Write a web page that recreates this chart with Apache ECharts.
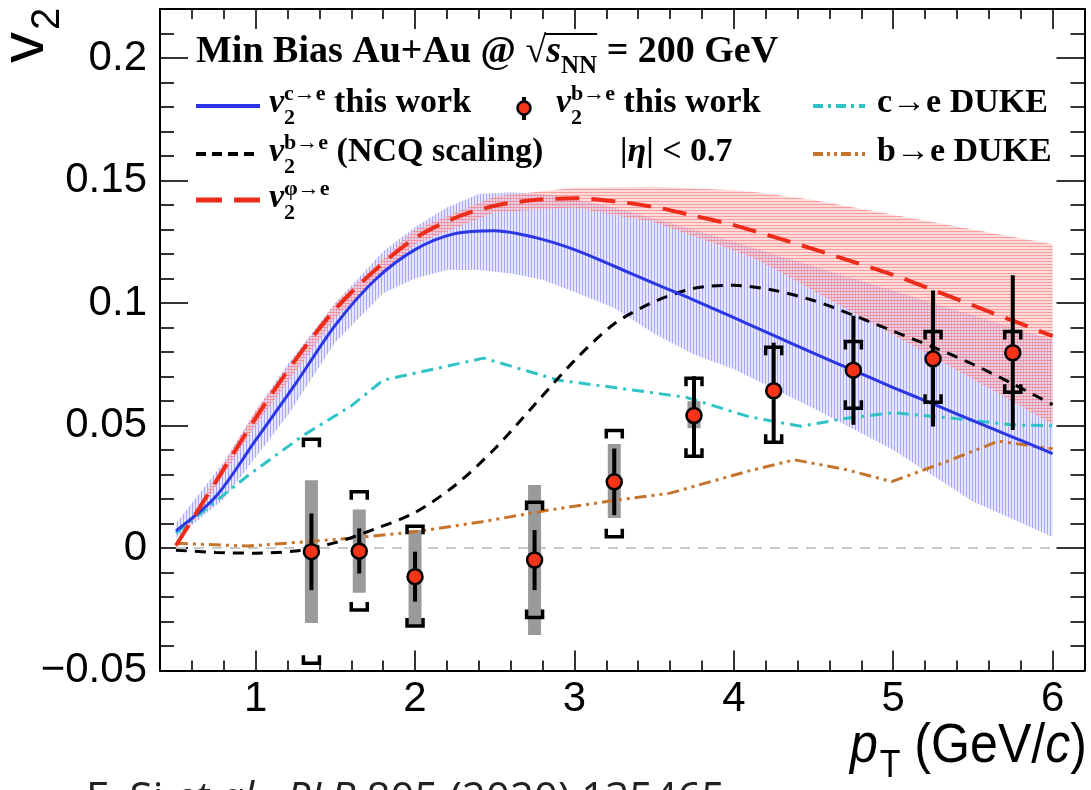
<!DOCTYPE html>
<html>
<head>
<meta charset="utf-8">
<script src="https://cdn.jsdelivr.net/npm/echarts@6/dist/echarts.min.js"></script>
<style>
  html, body { margin: 0; padding: 0; background: #fff; }
  #chart { width: 1091px; height: 790px; }
</style>
</head>
<body>
<div id="chart"></div>
<script>
// ---------------- axis ticks ----------------
const xTicks = [1, 2, 3, 4, 5, 6];
const xTickLabels = ['1', '2', '3', '4', '5', '6'];
const yTicks = [-0.05, 0, 0.05, 0.1, 0.15, 0.2];
const yTickLabels = ['\u22120.05', '0', '0.05', '0.1', '0.15', '0.2'];

// ---------------- v2 of c->e, this work (curve + band) ----------------
const cePt = [0.5, 0.75, 1.0, 1.25, 1.5, 1.75, 2.0, 2.25, 2.5, 2.75, 3.0, 3.25, 3.5, 3.75, 4.0, 4.25, 4.5, 4.75, 5.0, 5.25, 5.5, 5.75, 6.0];
const ceV2 = [0.007, 0.021, 0.044, 0.067, 0.091, 0.1095, 0.1218, 0.1283, 0.1295, 0.1268, 0.1218, 0.115, 0.108, 0.1012, 0.094, 0.0868, 0.0795, 0.0725, 0.0655, 0.0588, 0.052, 0.0453, 0.0385];
const ceBandPt = [0.5, 0.8, 1.0, 1.2, 1.5, 1.8, 2.0, 2.2, 2.4, 2.6, 2.8, 3.0, 3.25, 3.5, 3.75, 4.0, 4.5, 5.0, 5.5, 6.0];
const ceBandLo = [0.004, 0.020, 0.037, 0.054, 0.084, 0.104, 0.110, 0.1135, 0.1135, 0.112, 0.1095, 0.1045, 0.098, 0.0875, 0.079, 0.073, 0.057, 0.040, 0.019, 0.0045];
const ceBandHi = [0.010, 0.035, 0.056, 0.075, 0.100, 0.121, 0.131, 0.139, 0.1445, 0.1452, 0.1445, 0.1425, 0.139, 0.1345, 0.130, 0.125, 0.115, 0.105, 0.095, 0.085];

// ---------------- v2 of phi->e (curve + band) ----------------
const phiPt = [0.5, 0.75, 1.0, 1.25, 1.5, 1.75, 2.0, 2.25, 2.5, 2.75, 3.0, 3.25, 3.5, 3.75, 4.0, 4.25, 4.5, 4.75, 5.0, 5.25, 5.5, 5.75, 6.0];
const phiV2 = [0.001, 0.027, 0.053, 0.0768, 0.0975, 0.1135, 0.1265, 0.1347, 0.1397, 0.142, 0.1428, 0.1415, 0.1392, 0.1356, 0.1318, 0.127, 0.122, 0.1168, 0.1115, 0.1053, 0.099, 0.0928, 0.0865];
const phiBandPt = [0.5, 1.0, 1.5, 2.0, 2.5, 3.0, 3.5, 4.0, 4.17, 4.5, 5.0, 5.5, 6.0];
const phiBandLo = [0.000, 0.050, 0.094, 0.124, 0.137, 0.139, 0.133, 0.1215, 0.117, 0.105, 0.087, 0.069, 0.0505];
const phiBandHi = [0.002, 0.056, 0.100, 0.130, 0.1435, 0.147, 0.1475, 0.146, 0.145, 0.142, 0.136, 0.130, 0.124];

// ---------------- v2 of b->e from NCQ scaling ----------------
const ncqPt = [0.5, 0.75, 1.0, 1.25, 1.5, 1.75, 2.0, 2.25, 2.5, 2.75, 3.0, 3.25, 3.5, 3.75, 4.0, 4.25, 4.5, 4.75, 5.0, 5.25, 5.5, 5.75, 6.0];
const ncqV2 = [-0.0009, -0.0018, -0.0021, -0.0012, 0.0022, 0.0078, 0.0145, 0.0255, 0.0405, 0.0585, 0.0765, 0.0915, 0.1005, 0.106, 0.1072, 0.1052, 0.101, 0.095, 0.0885, 0.082, 0.075, 0.067, 0.0585];

// ---------------- DUKE model ----------------
const dukeCPt = [0.5, 0.96, 1.3, 1.6, 1.8, 2.43, 2.9, 3.25, 3.7, 4.1, 4.42, 4.72, 5.0, 5.35, 5.76, 6.0];
const dukeCV2 = [0.0061, 0.030, 0.046, 0.058, 0.0685, 0.0775, 0.0685, 0.0655, 0.0615, 0.0535, 0.0497, 0.0531, 0.0552, 0.0531, 0.0502, 0.0499];
const dukeBPt = [0.5, 0.95, 1.2, 1.6, 2.0, 2.42, 2.84, 3.26, 3.6, 4.08, 4.38, 4.71, 4.99, 5.34, 5.66, 6.0];
const dukeBV2 = [0.0019, 0.0008, 0.002, 0.004, 0.0066, 0.0107, 0.0155, 0.0195, 0.0224, 0.0312, 0.036, 0.0319, 0.0271, 0.0354, 0.0436, 0.0405];

// ---------------- v2 of b->e, this work (points) ----------------
const ptX    = [1.35, 1.65, 2.0, 2.75, 3.25, 3.75, 4.25, 4.75, 5.25, 5.75];
const ptV2   = [-0.0015, -0.0013, -0.0117, -0.0049, 0.027, 0.0541, 0.0642, 0.0726, 0.0772, 0.0797];
const statLo = [-0.0172, -0.0104, -0.0219, -0.0172, 0.0134, 0.0372, 0.0428, 0.0503, 0.0496, 0.0482];
const statHi = [0.0141, 0.008, -0.0015, 0.0073, 0.0406, 0.0701, 0.0838, 0.0948, 0.1051, 0.1113];
const sysLo  = [-0.047, -0.0253, -0.0318, -0.0284, 0.0046, 0.0375, 0.0432, 0.057, 0.0595, 0.0636];
const sysHi  = [0.0444, 0.023, 0.0089, 0.0187, 0.048, 0.0693, 0.0819, 0.0843, 0.0884, 0.0884];
const boxLo  = [-0.0306, -0.0183, -0.0314, -0.0355, 0.0122, 0.0489, null, null, null, null];
const boxHi  = [0.0277, 0.0157, 0.0073, 0.0257, 0.0424, 0.0599, null, null, null, null];

// zero reference line
const zeroX = [0.5, 6.0];
const zeroY = [0, 0];

// ---------------- styling ----------------
const X_MIN = 0.4, X_MAX = 6.2, Y_MIN = -0.05, Y_MAX = 0.22;
const C_BLUE = '#2b36e6', C_RED = '#ee2c1a', C_CYAN = '#2fc3c6', C_BROWN = '#c6732c', C_MARK = '#f5341a';
const SANS = "'Liberation Sans', Arial, sans-serif";
const SERIF = "'Liberation Serif', 'Times New Roman', serif";
const CITE = "'Open Sans', 'Noto Sans', sans-serif";

const xMinor = [], yMinor = [];
for (let k = 2; k <= 31; k++) { const v = +(k * 0.2).toFixed(1); if (Math.abs(v - Math.round(v)) > 1e-6) xMinor.push(v); }
for (let k = -4; k <= 21; k++) { if (k % 5 !== 0) yMinor.push(+(k * 0.01).toFixed(2)); }

function hatch(bg, line, vertical) {
  const c = document.createElement('canvas');
  c.width = 3; c.height = 3;
  const g = c.getContext('2d');
  g.fillStyle = bg; g.fillRect(0, 0, 3, 3);
  g.fillStyle = line;
  if (vertical) g.fillRect(0, 0, 1, 3); else g.fillRect(0, 0, 3, 1);
  return { image: c, repeat: 'repeat' };
}
const blueFill = hatch('rgba(196,196,255,0.42)', 'rgba(128,128,246,0.62)', true);
const redFill = hatch('rgba(255,182,182,0.48)', 'rgba(244,116,116,0.62)', false);

function bandRenderer(xs, lo, hi, fill) {
  return function (params, api) {
    const pts = [];
    for (let i = 0; i < xs.length; i++) pts.push(api.coord([xs[i], hi[i]]));
    for (let i = xs.length - 1; i >= 0; i--) pts.push(api.coord([xs[i], lo[i]]));
    return { type: 'polygon', shape: { points: pts }, style: { fill: fill, stroke: null } };
  };
}

function curve(name, xs, ys, color, width, dash, smooth, z) {
  return {
    name: name, type: 'line', data: xs.map((x, i) => [x, ys[i]]),
    showSymbol: false, smooth: smooth, z: z, silent: true,
    lineStyle: { color: color, width: width, type: dash || 'solid', cap: 'butt' }
  };
}

// ---------------- text helpers (graphic) ----------------
const mctx = document.createElement('canvas').getContext('2d');
function fontOf(p) { return (p.it ? 'italic ' : '') + (p.bold ? 'bold ' : '') + p.size + 'px ' + p.fam; }
function widthOf(p) { mctx.font = fontOf(p); return mctx.measureText(p.t).width; }
function textRun(x, base, parts, color) {
  const els = [];
  let cx = x;
  parts.forEach(p => {
    const w = widthOf(p);
    els.push({
      type: 'text', x: cx + (p.dx || 0), y: base + (p.dy || 0) - 0.345 * p.size, silent: true, z: 100,
      style: { text: p.t, font: fontOf(p), fill: color || '#000', textAlign: 'left', textVerticalAlign: 'middle' }
    });
    if (!p.stay) cx += w + (p.dx || 0);
  });
  return { els: els, end: cx };
}
function S(t, size, o) { return Object.assign({ t: t, size: size, fam: SERIF, bold: true }, o || {}); }
function v2Label(sup) {
  return [S('v', 34, { it: true }), S('2', 22, { dy: 11, stay: true }), S(sup, 22, { dy: -13 })];
}
function legLine(x1, x2, y, color, width, dash) {
  return { type: 'line', silent: true, z: 100, shape: { x1: x1, y1: y, x2: x2, y2: y },
    style: { stroke: color, lineWidth: width, lineDash: dash || null } };
}

const gfx = [];
// header
const headParts = [
  S('Min Bias Au+Au @ ', 38),
  S('\u221A', 38),
  S('s', 38, { it: true }),
  S('NN', 25, { dy: 10 }),
  S(' = 200 GeV', 38)
];
gfx.push(...textRun(196, 65, headParts).els);
{
  const a = 196 + widthOf(headParts[0]);
  const b = a + widthOf(headParts[1]);
  const d = b + widthOf(headParts[2]) + widthOf(headParts[3]);
  gfx.push({ type: 'line', silent: true, z: 100, shape: { x1: b - 2, y1: 34, x2: d, y2: 34 }, style: { stroke: '#000', lineWidth: 2 } });
}
// row 1
gfx.push(legLine(196, 260, 106, C_BLUE, 4));
gfx.push(...textRun(269, 115, v2Label('c\u2192e').concat([S(' this work', 34)])).els);
gfx.push({ type: 'line', silent: true, z: 100, shape: { x1: 524, y1: 97, x2: 524, y2: 120 }, style: { stroke: '#000', lineWidth: 4 } });
gfx.push({ type: 'circle', silent: true, z: 101, shape: { cx: 524, cy: 108, r: 6.5 }, style: { fill: C_MARK, stroke: '#000', lineWidth: 2.5 } });
gfx.push(...textRun(556, 115, v2Label('b\u2192e').concat([S(' this work', 34)])).els);
gfx.push(legLine(813, 865, 106, C_CYAN, 4, [10, 5, 3, 5]));
gfx.push(...textRun(877, 115, [S('c\u2192e DUKE', 34)]).els);
// row 2
gfx.push(legLine(196, 260, 154, '#000', 4, [10, 6]));
gfx.push(...textRun(269, 164, v2Label('b\u2192e').concat([S(' (NCQ scaling)', 34)])).els);
gfx.push(...textRun(620, 164, [S('|', 34), S('\u03B7', 34, { it: true }), S('| < 0.7', 34)]).els);
gfx.push(legLine(813, 865, 154, C_BROWN, 4, [10, 4, 3, 4, 3, 4]));
gfx.push(...textRun(877, 164, [S('b\u2192e DUKE', 34)]).els);
// row 3
gfx.push(legLine(196, 260, 200, C_RED, 5, [26, 12]));
gfx.push(...textRun(269, 210, v2Label('\u03C6\u2192e')).els);

// axis titles
{
  const yt = textRun(0, 0, [
    { t: 'v', size: 62, fam: SANS },
    { t: '2', size: 40, fam: SANS, dy: 15, dx: 2 }
  ]);
  gfx.push({ type: 'group', x: 47, y: 63, rotation: Math.PI / 2, children: yt.els });

  const xtParts = [
    { t: 'p', size: 56, fam: SANS, it: true },
    { t: 'T', size: 38, fam: SANS, dy: 14, dx: 2 },
    { t: ' (GeV/', size: 56, fam: SANS },
    { t: 'c', size: 56, fam: SANS, it: true },
    { t: ')', size: 56, fam: SANS }
  ];
  const xt = textRun(0, 0, xtParts);
  const span = 1087 - 850;
  gfx.push({ type: 'group', x: 850, y: 766, scaleX: span / xt.end, children: xt.els });
}
// citation line at the bottom edge
gfx.push(...textRun(86, 815, [
  { t: 'F. Si ', size: 42, fam: CITE },
  { t: 'et al.', size: 42, fam: CITE, it: true },
  { t: ', ', size: 42, fam: CITE },
  { t: 'PLB', size: 42, fam: CITE, it: true },
  { t: ' 805 (2020) 135465', size: 42, fam: CITE }
], '#222').els);

// ---------------- axes ----------------
function xAxisDef(pos, ticks, len, showLine, showLabel) {
  return {
    type: 'value', position: pos, min: X_MIN, max: X_MAX,
    axisLine: { show: showLine, onZero: false, lineStyle: { color: '#000', width: 2 } },
    axisTick: { show: true, inside: true, length: len, customValues: ticks, lineStyle: { color: '#000', width: 1.6 } },
    axisLabel: showLabel ? {
      show: true, customValues: xTicks, margin: 8, color: '#000', fontSize: 42, fontFamily: SANS,
      formatter: v => { const i = xTicks.findIndex(t => Math.abs(t - v) < 1e-6); return i >= 0 ? xTickLabels[i] : ''; }
    } : { show: false },
    splitLine: { show: false }, minorTick: { show: false }
  };
}
function yAxisDef(pos, ticks, len, showLine, showLabel) {
  return {
    type: 'value', position: pos, min: Y_MIN, max: Y_MAX,
    axisLine: { show: showLine, onZero: false, lineStyle: { color: '#000', width: 2 } },
    axisTick: { show: true, inside: true, length: len, customValues: ticks, lineStyle: { color: '#000', width: 1.6 } },
    axisLabel: showLabel ? {
      show: true, customValues: yTicks, margin: 13, color: '#000', fontSize: 42, fontFamily: SANS,
      formatter: v => { const i = yTicks.findIndex(t => Math.abs(t - v) < 1e-6); return i >= 0 ? yTickLabels[i] : ''; }
    } : { show: false },
    splitLine: { show: false }, minorTick: { show: false }
  };
}

// ---------------- series ----------------
const series = [
  { type: 'custom', name: 'ce band', renderItem: bandRenderer(ceBandPt, ceBandLo, ceBandHi, blueFill), data: [[ceBandPt[0], ceBandLo[0]]], z: 1, silent: true, clip: true },
  { type: 'custom', name: 'phi band', renderItem: bandRenderer(phiBandPt, phiBandLo, phiBandHi, redFill), data: [[phiBandPt[0], phiBandLo[0]]], z: 1, silent: true, clip: true },
  curve('zero', zeroX, zeroY, '#c8c8c8', 2, [10, 8], false, 1),
  {
    type: 'custom', name: 'sys box', z: 2, silent: true,
    data: ptX.map((x, i) => [x, ptV2[i]]),
    renderItem: (params, api) => {
      const i = params.dataIndex;
      if (boxLo[i] == null) return;
      const a = api.coord([ptX[i], boxHi[i]]), b = api.coord([ptX[i], boxLo[i]]);
      return { type: 'rect', shape: { x: a[0] - 6.5, y: a[1], width: 13, height: b[1] - a[1] }, style: { fill: '#9a9a9a' } };
    }
  },
  curve('c->e DUKE', dukeCPt, dukeCV2, C_CYAN, 3, [12, 6, 3, 6], false, 3),
  curve('b->e DUKE', dukeBPt, dukeBV2, C_BROWN, 3, [12, 5, 3, 5, 3, 5], false, 3),
  curve('NCQ', ncqPt, ncqV2, '#000', 3, [11, 8], 0.3, 3),
  curve('ce this work', cePt, ceV2, C_BLUE, 3, null, 0.3, 3),
  curve('phi', phiPt, phiV2, C_RED, 4, [24, 12], 0.3, 3),
  {
    type: 'custom', name: 'errors', z: 4, silent: true,
    data: ptX.map((x, i) => [x, ptV2[i]]),
    renderItem: (params, api) => {
      const i = params.dataIndex;
      const sH = api.coord([ptX[i], statHi[i]]), sL = api.coord([ptX[i], statLo[i]]);
      const yH = api.coord([ptX[i], sysHi[i]]), yL = api.coord([ptX[i], sysLo[i]]);
      const cx = sH[0], hw = 8, leg = 8;
      return {
        type: 'group', children: [
          { type: 'line', shape: { x1: cx, y1: sH[1], x2: cx, y2: sL[1] }, style: { stroke: '#000', lineWidth: 4 } },
          { type: 'polyline', shape: { points: [[cx - hw, yH[1] + leg], [cx - hw, yH[1]], [cx + hw, yH[1]], [cx + hw, yH[1] + leg]] }, style: { stroke: '#000', lineWidth: 3.5, fill: null } },
          { type: 'polyline', shape: { points: [[cx - hw, yL[1] - leg], [cx - hw, yL[1]], [cx + hw, yL[1]], [cx + hw, yL[1] - leg]] }, style: { stroke: '#000', lineWidth: 3.5, fill: null } }
        ]
      };
    }
  },
  {
    type: 'scatter', name: 'be this work', z: 5, silent: true,
    data: ptX.map((x, i) => [x, ptV2[i]]),
    symbol: 'circle', symbolSize: 15,
    itemStyle: { color: C_MARK, borderColor: '#000', borderWidth: 2.5, opacity: 1 }
  }
];

const chart = echarts.init(document.getElementById('chart'), null, { renderer: 'canvas' });
chart.setOption({
  animation: false,
  backgroundColor: '#fff',
  grid: { left: 160, right: 6.5, top: 9, bottom: 119.5, containLabel: false, outerBoundsMode: 'none' },
  xAxis: [
    xAxisDef('bottom', xTicks, 20, true, true),
    xAxisDef('bottom', xMinor, 10, false, false),
    xAxisDef('top', xTicks, 20, true, false),
    xAxisDef('top', xMinor, 10, false, false)
  ],
  yAxis: [
    yAxisDef('left', yTicks, 28, true, true),
    yAxisDef('left', yMinor, 14, false, false),
    yAxisDef('right', yTicks, 28, true, false),
    yAxisDef('right', yMinor, 14, false, false)
  ],
  series: series,
  graphic: gfx
});
</script>
</body>
</html>
